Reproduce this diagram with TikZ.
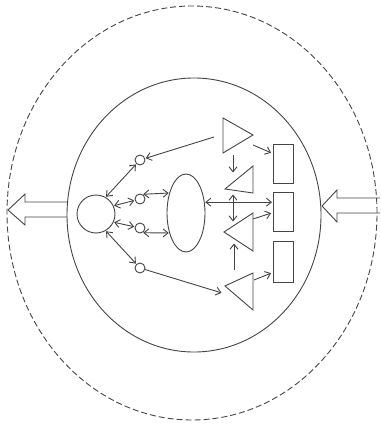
\documentclass[tikz,border=0pt]{standalone}
\usetikzlibrary{arrows.meta,shapes.geometric,calc}
\definecolor{ink}{HTML}{454545}
\begin{document}
\begin{tikzpicture}[x=1pt,y=-1pt,
  ln/.style={draw=ink,line width=0.9pt},
  arr/.style={ln,shorten >=0.5pt,-{Straight Barb[length=5pt,width=8pt]}},
  darr/.style={ln,shorten >=0.5pt,shorten <=0.5pt,{Straight Barb[length=5pt,width=8pt]}-{Straight Barb[length=5pt,width=8pt]}},
  dot/.style={circle,ln,minimum size=10pt,inner sep=0pt},
  box/.style={rectangle,ln,minimum width=20pt,inner sep=0pt},
  tri/.style={ln,line join=miter},
  hollow/.style={ln,line join=miter}]
\fill[white] (0,0) rectangle (380,425);
\useasboundingbox (0,0) rectangle (380,425);

% enclosing ellipses
\draw[ln,dash pattern=on 6pt off 3pt] (192,213) ellipse [x radius=185pt, y radius=207pt];
\draw[ln] (194,215) ellipse [x radius=127pt, y radius=137pt];

% hollow arrows
\draw[hollow] (67,202) -- (25,202) -- (25,194) -- (8,210) -- (25,225) -- (25,217) -- (67,217);
\draw[hollow] (380,198) -- (337,198) -- (337,190) -- (322,206) -- (337,222) -- (337,213) -- (380,213);

% nodes
\node[circle,ln,minimum size=38pt,inner sep=0pt] (big) at (96,214) {};
\node[ellipse,ln,minimum width=38pt,minimum height=78pt,inner sep=0pt] (ell) at (186,213) {};
\node[dot] (c1) at (140,160) {};
\node[dot] (c2) at (140,199) {};
\node[dot] (c3) at (140,228) {};
\node[dot] (c4) at (140,268) {};
\node[box,minimum height=39pt] (r1) at (283,163.5) {};
\node[box,minimum height=39pt] (r2) at (283,211.5) {};
\node[box,minimum height=41pt] (r3) at (283,261.5) {};

% triangles
\draw[tri] (223,118) coordinate (t1a) -- (223,153) coordinate (t1b) -- (253,135) coordinate (t1c) -- cycle;
\draw[tri] (225,189) coordinate (t2a) -- (253,166) coordinate (t2b) -- (253,193) coordinate (t2c) -- cycle;
\draw[tri] (224,232) coordinate (t3a) -- (253,213) coordinate (t3b) -- (253,251) coordinate (t3c) -- cycle;
\draw[tri] (225,286) coordinate (t4a) -- (253,273) coordinate (t4b) -- (253,310) coordinate (t4c) -- cycle;

% connector end points
\coordinate (t1s) at (214,137);
\coordinate (t1r) at (253,145);
\coordinate (t1d) at (233,155);
\coordinate (t2u) at (233,173);
\coordinate (v1) at (233,194);
\coordinate (v2) at (233,222);
\coordinate (t3r) at (253,219);
\coordinate (t4u) at (234,270);
\coordinate (t3d) at (234,243);
\coordinate (t4r) at (254,280);
\coordinate (t4in) at (222,293);

% left cluster
\draw[darr] (big.60) -- (c1);
\draw[darr] (big.25) -- (c2);
\draw[darr] (big.-25) -- (c3);
\draw[darr] (big.-60) -- (c4);
\draw[darr] (c2.60) -- (ell.130);
\draw[darr] (c3.-60) -- (ell.-130);
\draw[arr] (t1s) -- (c1);
\draw[arr] (c4) -- (t4in);

% right cluster
\draw[darr] (ell.30) -- (ell.30 -| r2.west);
\draw[arr] (t1r) -- ($(r1.west)+(-1,-10.5)$);
\draw[arr] (t1d) -- (t2u);
\draw[darr] (v1) -- (v2);
\draw[arr] (t3r) -- ($(r2.west)+(-1,1.5)$);
\draw[arr] (t4u) -- (t3d);
\draw[arr] (t4r) -- ($(r3.west)+(-1,11.5)$);
\end{tikzpicture}
\end{document}
